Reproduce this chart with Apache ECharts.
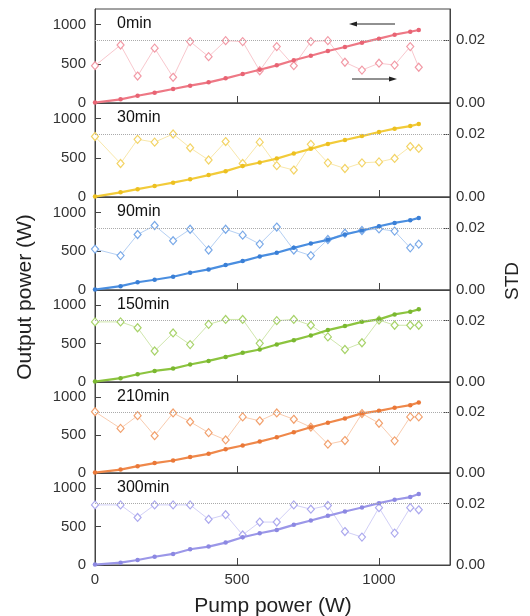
<!DOCTYPE html>
<html>
<head>
<meta charset="utf-8">
<script src="https://cdn.jsdelivr.net/npm/echarts@6/dist/echarts.min.js"></script>
<style>html,body{margin:0;padding:0;background:#fff}#c{width:530px;height:616px}</style>
</head>
<body>
<div id="c"></div>
<script>
var pump = [0, 90, 150, 210, 275, 335, 400, 460, 520, 580, 640, 700, 760, 820, 880, 940, 1000, 1055, 1110, 1140];
var panelNames = ['0min', '30min', '90min', '150min', '210min', '300min'];

var out0   = [5, 47, 93, 132, 179, 221, 264, 315, 370, 425, 481, 545, 604, 664, 715, 770, 821, 872, 910, 932];
var out30  = [5, 60, 100, 140, 183, 227, 280, 330, 395, 440, 490, 555, 615, 678, 728, 778, 830, 872, 905, 932];
var out90  = [5, 50, 100, 132, 171, 223, 266, 321, 373, 433, 480, 544, 600, 647, 716, 768, 823, 866, 900, 930];
var out150 = [5, 50, 101, 144, 175, 228, 275, 327, 380, 424, 490, 546, 607, 677, 729, 785, 817, 882, 916, 948];
var out210 = [5, 45, 90, 131, 165, 210, 253, 314, 362, 414, 471, 537, 603, 663, 720, 786, 820, 860, 895, 930];
var out300 = [5, 30, 65, 108, 144, 205, 240, 292, 362, 414, 458, 524, 580, 641, 698, 750, 807, 851, 886, 925];

var std0   = [0.0119, 0.0185, 0.0086, 0.0175, 0.0082, 0.0196, 0.0148, 0.0199, 0.0196, 0.0103, 0.0180, 0.0119, 0.0196, 0.0199, 0.0130, 0.0105, 0.0127, 0.0121, 0.0180, 0.0114];
var std30  = [0.0193, 0.0107, 0.0184, 0.0175, 0.0201, 0.0157, 0.0118, 0.0177, 0.0107, 0.0175, 0.0100, 0.0086, 0.0168, 0.0109, 0.0091, 0.0109, 0.0112, 0.0123, 0.0161, 0.0155];
var std90  = [0.0132, 0.0111, 0.0179, 0.0208, 0.0159, 0.0196, 0.0129, 0.0196, 0.0177, 0.0148, 0.0203, 0.0129, 0.0111, 0.0163, 0.0183, 0.0192, 0.0197, 0.0190, 0.0136, 0.0148];
var std150 = [0.0196, 0.0196, 0.0177, 0.0101, 0.0160, 0.0122, 0.0188, 0.0204, 0.0204, 0.0126, 0.0200, 0.0204, 0.0185, 0.0147, 0.0106, 0.0128, 0.0202, 0.0185, 0.0185, 0.0185];
var std210 = [0.0202, 0.0147, 0.0189, 0.0123, 0.0198, 0.0169, 0.0133, 0.0109, 0.0185, 0.0172, 0.0198, 0.0177, 0.0151, 0.0095, 0.0107, 0.0196, 0.0164, 0.0106, 0.0185, 0.0185];
var std300 = [0.0196, 0.0196, 0.0155, 0.0196, 0.0196, 0.0196, 0.0149, 0.0164, 0.0098, 0.0140, 0.0140, 0.0196, 0.0182, 0.0194, 0.0109, 0.0091, 0.0187, 0.0104, 0.0187, 0.0180];

var xTicks = [0, 500, 1000];
var leftTicks = [0, 500, 1000];
var rightTicks = [0, 0.02];
var stdRef = 0.02;

var outputs = [out0, out30, out90, out150, out210, out300];
var stds = [std0, std30, std90, std150, std210, std300];
var lineColors = ['#EE7885', '#F2CB3A', '#4A8EE0', '#8CC43F', '#EF884A', '#9B97E8'];
var dotColors  = ['#E86474', '#EDC020', '#3A7FD6', '#7AB830', '#EA7838', '#8C88E2'];
var stdColors  = ['#F29AA6', '#F3D466', '#79A9E8', '#A8D36A', '#F2A16E', '#ACA9EE'];

var tops = [9, 103, 197, 290, 382, 473];
var heights = [94, 94, 93, 92, 91, 92];
var FONT = '"Liberation Sans", Arial, sans-serif';
function plain(v) { return String(v); }

var grids = [], xAxes = [], yAxes = [], series = [], graphics = [];
for (var i = 0; i < 6; i++) {
  grids.push({left: 95, right: 80, top: tops[i], height: heights[i], show: true, borderColor: '#444', borderWidth: 1, backgroundColor: 'transparent'});
  var last = (i === 5);
  xAxes.push({
    type: 'value', gridIndex: i, min: 0, max: 1250,
    axisLine: {show: true, onZero: false, lineStyle: {color: '#444', width: 1}},
    axisTick: {show: true, inside: true, length: 7, customValues: xTicks, lineStyle: {color: '#444'}},
    axisLabel: {show: last, customValues: xTicks, fontSize: 15, color: '#333', fontFamily: FONT, margin: 7, formatter: plain},
    splitLine: {show: false}
  });
  yAxes.push({
    type: 'value', gridIndex: i, min: 0, max: 1200, position: 'left',
    axisLine: {show: true, lineStyle: {color: '#444', width: 1}},
    axisTick: {show: true, inside: true, length: 6, customValues: leftTicks, lineStyle: {color: '#444'}},
    axisLabel: {customValues: leftTicks, fontSize: 15, color: '#333', fontFamily: FONT, margin: 9, formatter: plain},
    splitLine: {show: false}
  });
  yAxes.push({
    type: 'value', gridIndex: i, min: 0, max: 0.03, position: 'right',
    axisLine: {show: true, lineStyle: {color: '#444', width: 1}},
    axisTick: {show: true, inside: true, length: 7, customValues: rightTicks, lineStyle: {color: '#444'}},
    axisLabel: {customValues: rightTicks, fontSize: 15, color: '#333', fontFamily: FONT, margin: 6,
      formatter: function (v) { return v.toFixed(2); }},
    splitLine: {show: false}
  });
  var sd = [], od = [];
  for (var k = 0; k < pump.length; k++) {
    sd.push([pump[k], stds[i][k]]);
    od.push([pump[k], outputs[i][k]]);
  }
  series.push({
    type: 'line', xAxisIndex: i, yAxisIndex: 2 * i + 1, data: sd,
    symbol: 'diamond', symbolSize: [7, 8], showAllSymbol: true,
    lineStyle: {color: stdColors[i], width: 0.8, opacity: 0.7},
    itemStyle: {color: '#fff', borderColor: stdColors[i], borderWidth: 1.2},
    z: 2,
    markLine: {silent: true, symbol: 'none', label: {show: false},
      lineStyle: {type: 'dotted', color: '#aaa', width: 1},
      data: [{yAxis: stdRef}]}
  });
  series.push({
    type: 'line', xAxisIndex: i, yAxisIndex: 2 * i, data: od,
    symbol: 'circle', symbolSize: 4.5, showAllSymbol: true,
    lineStyle: {color: lineColors[i], width: 2.2},
    itemStyle: {color: dotColors[i]},
    z: 3
  });
  graphics.push({type: 'text', left: 117, top: tops[i] + 7,
    style: {text: panelNames[i], fontSize: 16, fill: '#111', fontFamily: FONT}});
}

// arrows in first panel
graphics.push({type: 'line', shape: {x1: 356, y1: 24, x2: 395, y2: 24}, style: {stroke: '#222', lineWidth: 1}});
graphics.push({type: 'polygon', shape: {points: [[349, 24], [357, 21.5], [357, 26.5]]}, style: {fill: '#222'}});
graphics.push({type: 'line', shape: {x1: 352, y1: 79, x2: 390, y2: 79}, style: {stroke: '#222', lineWidth: 1}});
graphics.push({type: 'polygon', shape: {points: [[397, 79], [389, 76.5], [389, 81.5]]}, style: {fill: '#222'}});

// axis names
graphics.push({type: 'text', x: 25, y: 297, rotation: Math.PI / 2,
  style: {text: 'Output power (W)', fontSize: 21, fill: '#222', fontFamily: FONT, align: 'center', verticalAlign: 'middle'}});
graphics.push({type: 'text', x: 513, y: 281, rotation: Math.PI / 2,
  style: {text: 'STD', fontSize: 19, fill: '#222', fontFamily: FONT, align: 'center', verticalAlign: 'middle'}});
graphics.push({type: 'text', x: 273, y: 606,
  style: {text: 'Pump power (W)', fontSize: 21, fill: '#222', fontFamily: FONT, align: 'center', verticalAlign: 'middle'}});

var chart = echarts.init(document.getElementById('c'), null, {renderer: 'canvas'});
chart.setOption({
  animation: false,
  backgroundColor: '#fff',
  grid: grids, xAxis: xAxes, yAxis: yAxes, series: series, graphic: graphics
});
</script>
</body>
</html>
